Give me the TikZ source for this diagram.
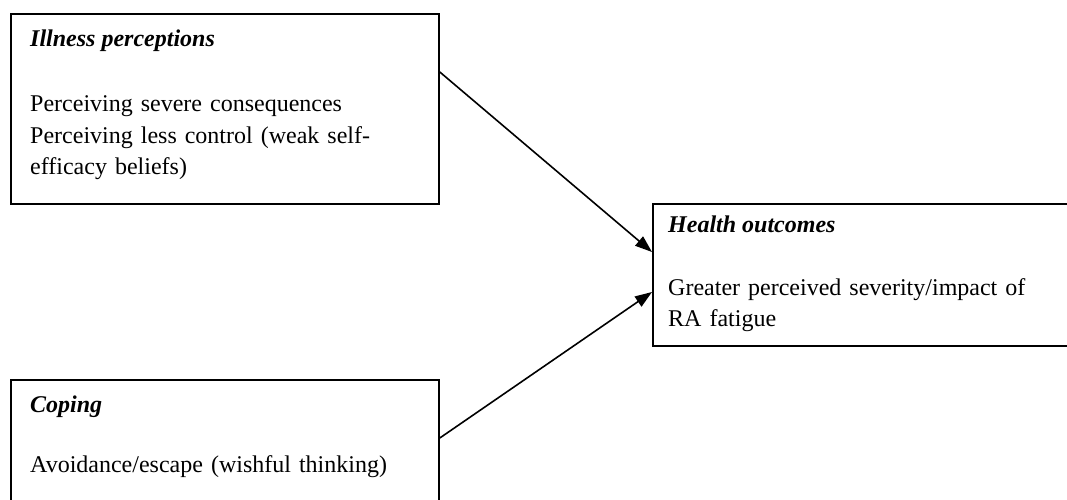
\documentclass[tikz,border=0pt]{standalone}
\usepackage{fontspec}
\setmainfont{Liberation Serif}
\usetikzlibrary{arrows.meta}
\begin{document}
\begin{tikzpicture}[x=1pt,y=1pt,
  box/.style={draw=black, line width=1.8pt, rectangle, inner sep=0pt, anchor=north west},
  head/.style={anchor=base west, inner sep=0pt, font=\fontsize{24}{31.5}\selectfont\bfseries\itshape},
  body/.style={anchor=base west, inner sep=0pt, align=left, text width=420pt, font=\fontsize{24}{31.5}\selectfont},
  arr/.style={line width=1.6pt, -{Triangle[length=17pt,width=12pt]}}]
\useasboundingbox (0,0) rectangle (1067,499);
\clip (0,0) rectangle (1067,499);
% boxes
\node[box, minimum width=428pt, minimum height=190pt] (b1) at (10,486) {};
\node[box, minimum width=440pt, minimum height=142pt] (b2) at (652,296) {};
\node[box, minimum width=428pt, minimum height=140pt] (b3) at (10,120) {};
% texts
\node[head] (h1) at (30,452) {Illness perceptions};
\node[body] (t1) at (30,387) {Perceiving severe consequences\\Perceiving less control (weak self-\\efficacy beliefs)};
\node[head] (h2) at (668,267) {Health outcomes};
\node[body] (t2) at (668,204) {Greater perceived severity/impact of\\RA fatigue};
\node[head] (h3) at (30,87) {Coping};
\node[body] (t3) at (30,27) {Avoidance/escape (wishful thinking)};
% arrows
\draw[arr] ([yshift=-59pt]b1.north east) -- ([yshift=-49pt]b2.north west);
\draw[arr] ([yshift=-59pt]b3.north east) -- ([yshift=-89pt]b2.north west);
\end{tikzpicture}
\end{document}
